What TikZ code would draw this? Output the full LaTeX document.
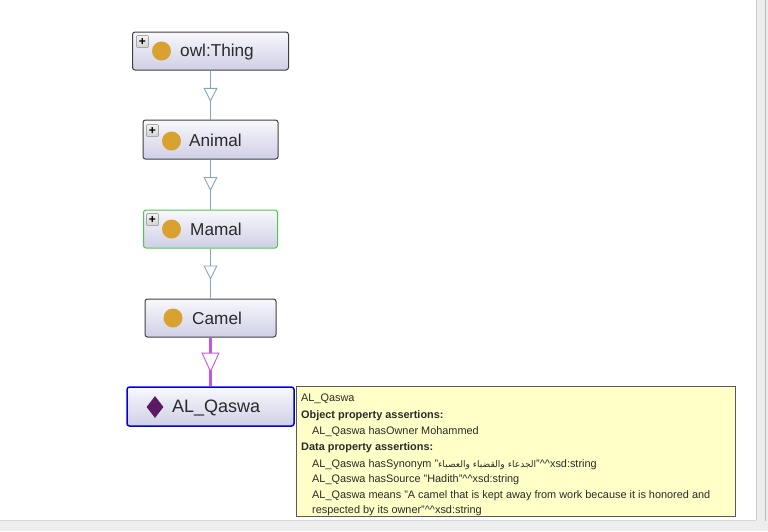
\documentclass[tikz,border=0pt]{standalone}
\usepackage{fontspec}
\setmainfont{Liberation Sans}
\newfontfamily\arabicfont[Script=Arabic]{DejaVu Sans}
\TeXXeTstate=1
\usetikzlibrary{arrows.meta,decorations.markings,shapes.geometric}
\tikzset{
  x=1pt,y=-1pt,
  cls/.style={draw=#1,line width=1pt,rounded corners=2.5pt,top color=owlTop,bottom color=owlBot,inner sep=0pt},
  lbl/.style={font=\fontsize{17.2}{18}\selectfont,text=txtDark,inner sep=0pt,anchor=base west},
  classdot/.style={circle,fill=dotGold,inner sep=0pt,minimum size=19pt},
  indiv/.style={diamond,fill=indivPurple,inner sep=0pt,minimum width=17pt,minimum height=22pt},
  plusbox/.style={draw=gray!70,line width=.7pt,rounded corners=1pt,top color=gray!10,bottom color=gray!35,minimum size=12pt,inner sep=0pt,font=\fontsize{12}{12}\selectfont\bfseries,text=black},
  isa/.style={draw=edgeBlue,line width=.8pt,postaction={decorate},decoration={markings,mark=at position #1 with {\arrow[edgeBlue,line width=.9pt]{Triangle[open,fill=white,length=14pt,width=14pt]}}}},
  isaind/.style={draw=edgePurple,line width=2.4pt,postaction={decorate},decoration={markings,mark=at position #1 with {\arrow[edgePurple,line width=.9pt]{Triangle[open,fill=white,length=20pt,width=18pt]}}}},
  tip/.style={font=\fontsize{10.9}{12}\selectfont,text=txtDark,inner sep=0pt,anchor=base west},
}
\definecolor{owlTop}{HTML}{F8F8FC}
\definecolor{owlBot}{HTML}{CFCFE6}
\definecolor{txtDark}{HTML}{2A2A2A}
\definecolor{dotGold}{HTML}{D9A12F}
\definecolor{indivPurple}{HTML}{5B1A66}
\definecolor{edgeBlue}{HTML}{7FA6C6}
\definecolor{edgePurple}{HTML}{C455DC}
\definecolor{tipFill}{HTML}{FFFFC8}
\begin{document}
\begin{tikzpicture}
\useasboundingbox (0,0) rectangle (768,531);
\fill[white] (0,0) rectangle (768,531);
% window chrome
\fill[black!7] (756,0) rectangle (768,531);
\draw[black!20,line width=.8pt] (756,0) -- (756,520);
\draw[black!28,line width=.8pt] (765,0) -- (765,531);
\fill[black!7] (0,521) rectangle (768,531);
\draw[black!16,line width=1pt] (0,520.5) -- (756,520.5);
% classes
\node[cls=black!75,minimum width=156pt,minimum height=38pt] (thing) at (210.5,51) {};
\node[cls=black!75,minimum width=135pt,minimum height=39pt] (animal) at (210.5,139.5) {};
\node[cls=green!70!black!70,minimum width=134pt,minimum height=38pt] (mamal) at (210.5,229) {};
\node[cls=black!75,minimum width=131pt,minimum height=38pt] (camel) at (210.5,318) {};
\node[cls=blue!85!black,line width=1.5pt,minimum width=167pt,minimum height=39pt] (qaswa) at (210.5,406.5) {};
% edges
\draw[isa=.64] (thing.south) -- (animal.north);
\draw[isa=.63] (animal.south) -- (mamal.north);
\draw[isa=.62] (mamal.south) -- (camel.north);
\draw[isaind=.72] (camel.south) -- (qaswa.north);
% icons
\node[classdot] (d1) at (161.5,51) {};
\node[classdot] (d2) at (171.5,141) {};
\node[classdot] (d3) at (171.5,229) {};
\node[classdot] (d4) at (173,318) {};
\node[indiv] (d5) at (155,407) {};
\node[plusbox] (p1) at (142.5,41.5) {+};
\node[plusbox] (p2) at (152.5,130.5) {+};
\node[plusbox] (p3) at (152.5,219.5) {+};
% labels
\node[lbl] (t1) at (180,56.5) {owl:Thing};
\node[lbl] (t2) at (189,146) {Animal};
\node[lbl] (t3) at (190,235) {Mamal};
\node[lbl] (t4) at (192,324) {Camel};
\node[lbl,font=\fontsize{18}{18}\selectfont] (t5) at (172,412.5) {AL\_Qaswa};
% tooltip
\node[draw=black!65,line width=1pt,fill=tipFill,minimum width=439pt,minimum height=130pt,inner sep=0pt] (tooltip) at (515.5,451) {};
\node[tip] (l1) at (301,401) {AL\_Qaswa};
\node[tip] (l2) at (301,418) {\bfseries Object property assertions:};
\node[tip] (l3) at (312,434) {AL\_Qaswa hasOwner Mohammed};
\node[tip] (l4) at (301,450) {\bfseries Data property assertions:};
\node[tip] (l5) at (312,467) {AL\_Qaswa hasSynonym "{\arabicfont\fontsize{9.1}{9}\selectfont\beginR الجدعاء والقضباء والعصباء\endR}"\^{}\^{}xsd:string};
\node[tip] (l6) at (312,482) {AL\_Qaswa hasSource "Hadith"\^{}\^{}xsd:string};
\node[tip] (l7) at (312,498) {AL\_Qaswa means "A camel that is kept away from work because it is honored and};
\node[tip] (l8) at (312,513) {respected by its owner"\^{}\^{}xsd:string};
\end{tikzpicture}
\end{document}
